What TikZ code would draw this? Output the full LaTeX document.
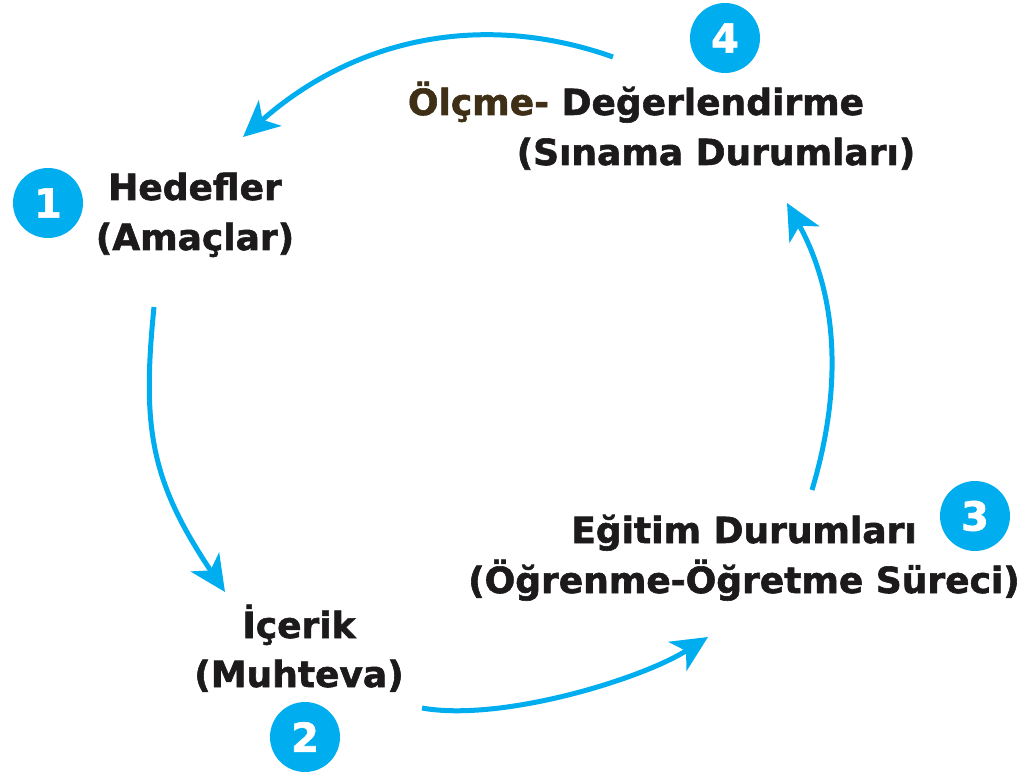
\documentclass[tikz,border=0pt]{standalone}
\usepackage{fontspec}
\setmainfont{DejaVu Sans}[BoldFeatures={FakeBold=1.6}]
\usetikzlibrary{arrows.meta, positioning}
\definecolor{cyclecyan}{HTML}{00AEEF}
\definecolor{olcbrown}{HTML}{3F2F16}
\definecolor{inkblack}{HTML}{1C1A1B}
\tikzset{
  cycle/.style={
	x=1pt, y=-1pt, % one unit is one pixel of the reference
	every node/.style={inner sep=0pt},
  },
  phase/.style={anchor=base, text=inkblack, font=\fontsize{36}{50}\selectfont\bfseries}, % the step texts
  badge/.style={circle, fill=cyclecyan, minimum size=70pt, text=white,
	font=\fontsize{40}{40}\selectfont\bfseries}, % numbered discs
  flow/.style={draw=cyclecyan, line width=5pt,
	-{Stealth[length=36pt, width=34pt, inset=10pt]}}, % the cycle arrows
}

\begin{document}
\begin{tikzpicture}[cycle]
\useasboundingbox (0,0) rectangle (1025,775);

% numbered discs
\node[badge] (b1) at (48,203) {1};
\node[badge] (b2) at (305,737) {2};
\node[badge] (b3) at (975,516) {3};
\node[badge] (b4) at (725,38) {4};

% step texts
\node[phase] (hedef) at (195,200) {Hedefler};
\node[phase] (amac) at (195,250) {(Amaçlar)};
\node[phase] (icerik) at (299,638) {İçerik};
\node[phase] (muhteva) at (299,687) {(Muhteva)};
\node[phase] (egitim) at (744,543) {Eğitim Durumları};
\node[phase] (surec) at (744,593) {(Öğrenme-Öğretme Süreci)};
\node[phase] (olcme) at (636,115) {\textcolor{olcbrown}{Ölçme-} Değerlendirme};
\node[phase] (sinama) at (716,165) {(Sınama Durumları)};

% arrow ends
\coordinate (f1s) at (154,307);
\coordinate (f1e) at (225,592);
\coordinate (f2s) at (422,708);
\coordinate (f2e) at (708,637);
\coordinate (f3s) at (812,490);
\coordinate (f3e) at (787,203);
\coordinate (f4s) at (613,57);
\coordinate (f4e) at (243,137);

\draw[flow] (f1s) .. controls (142,427) and (150,480) .. (f1e);
\draw[flow] (f2s) .. controls (500,722) and (640,680) .. (f2e);
\draw[flow] (f3s) .. controls (845,380) and (835,290) .. (f3e);
\draw[flow] (f4s) .. controls (483,11) and (355,38) .. (f4e);
\end{tikzpicture}
\end{document}
